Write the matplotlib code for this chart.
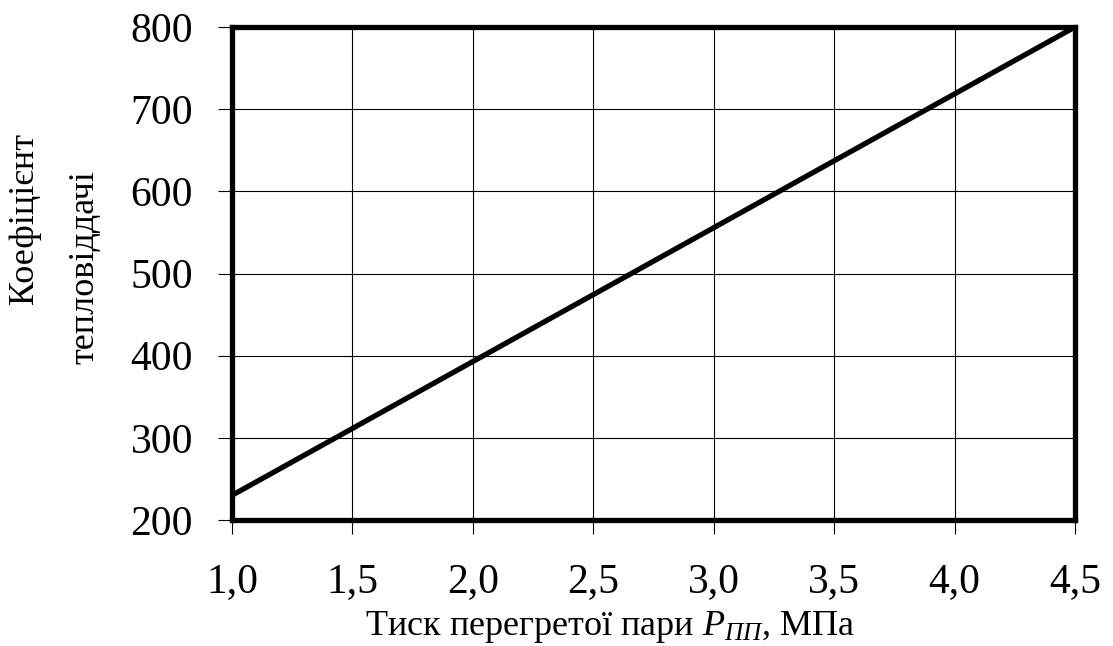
import matplotlib
matplotlib.use('Agg')
import matplotlib.pyplot as plt
import numpy as np

plt.rcParams['font.family'] = ['Liberation Serif', 'DejaVu Serif']
plt.rcParams['mathtext.fontset'] = 'custom'
plt.rcParams['mathtext.rm'] = 'Liberation Serif'
plt.rcParams['mathtext.it'] = 'Liberation Serif:italic'

# data
pressure = [1.0, 4.5]
coefficient = [230, 800]
x_ticks = [1.0, 1.5, 2.0, 2.5, 3.0, 3.5, 4.0, 4.5]
y_ticks = [200, 300, 400, 500, 600, 700, 800]

W, H = 1113, 646
fig = plt.figure(figsize=(W / 100, H / 100), dpi=100)
ax = fig.add_axes([232 / W, 1 - 520 / H, (1075 - 232) / W, (520 - 27) / H])

ax.plot(pressure, coefficient, color='black', linewidth=3.8, solid_capstyle='butt', zorder=3)

ax.set_xlim(1.0, 4.5)
ax.set_ylim(200, 800)
ax.set_xticks(x_ticks)
ax.set_yticks(y_ticks)
ax.set_xticklabels([('%.1f' % v).replace('.', ',') for v in x_ticks])
ax.set_yticklabels([str(v) for v in y_ticks])
ax.grid(True, color='black', linewidth=0.8)

for s in ax.spines.values():
    s.set_linewidth(3.8)
    s.set_zorder(4)

ax.tick_params(axis='both', direction='out', length=10, width=0.8, labelsize=30)
ax.tick_params(axis='x', pad=21)
ax.tick_params(axis='y', pad=18)

# axis titles placed as in the picture
fig.text(610 / W, 1 - 635 / H, 'Тиск перегретої пари $P_{ПП}$, МПа',
         fontsize=26, ha='center', va='baseline')
fig.text(24 / W, 1 - 218 / H, 'Коефіцієнт', fontsize=26, rotation=90,
         ha='center', va='center')
fig.text(85 / W, 1 - 267 / H, 'тепловіддачі', fontsize=26, rotation=90,
         ha='center', va='center')

fig.savefig('out.png', dpi=100)
